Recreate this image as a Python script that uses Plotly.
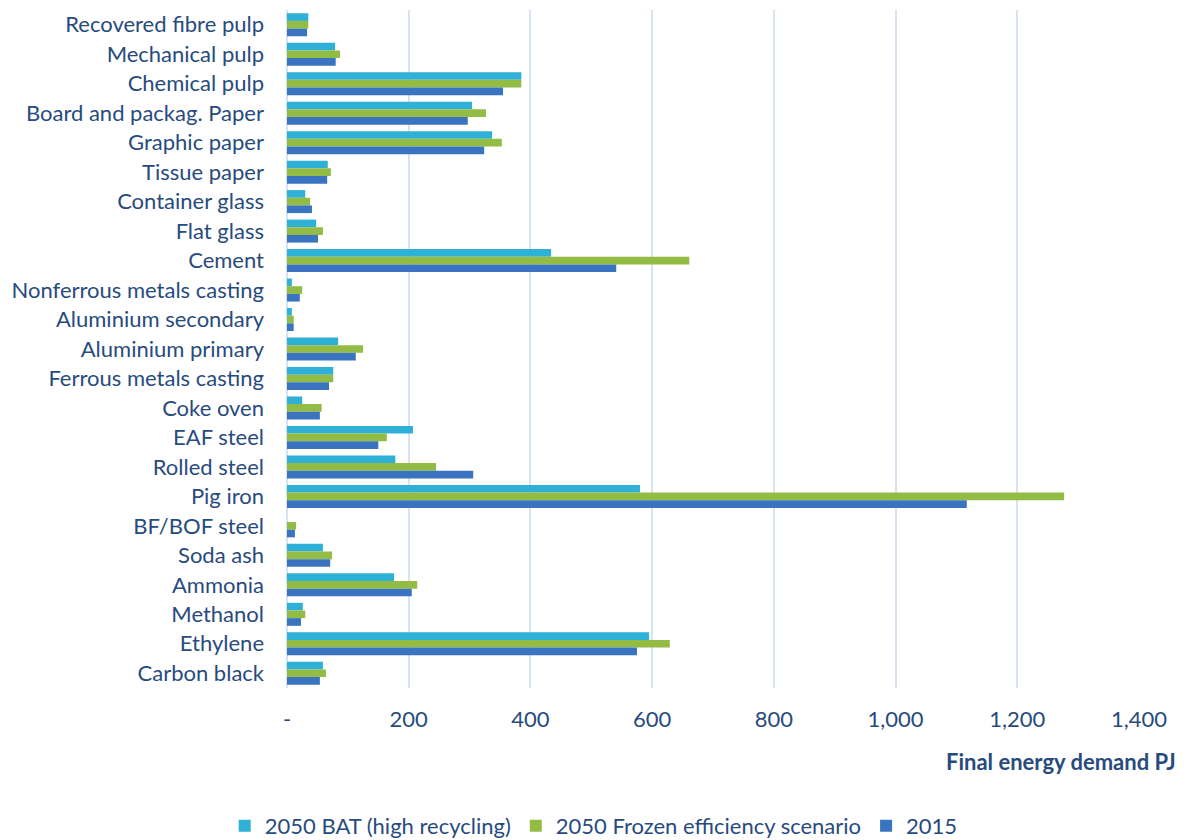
import plotly.graph_objects as go

categories = ["Recovered fibre pulp", "Mechanical pulp", "Chemical pulp", "Board and packag. Paper",
              "Graphic paper", "Tissue paper", "Container glass", "Flat glass", "Cement",
              "Nonferrous metals casting", "Aluminium secondary", "Aluminium primary",
              "Ferrous metals casting", "Coke oven", "EAF steel", "Rolled steel", "Pig iron",
              "BF/BOF steel", "Soda ash", "Ammonia", "Methanol", "Ethylene", "Carbon black"]

bat_2050 = [35, 79, 385, 304, 337, 67, 30, 48, 434, 8, 8, 84, 76, 25, 207, 178, 580,
            0, 59, 176, 26, 595, 59]
frozen_2050 = [35, 87, 385, 327, 353, 72, 38, 59, 661, 25, 11, 125, 76, 57, 164, 245, 1277,
               15, 74, 214, 30, 629, 64]
y2015 = [33, 80, 355, 297, 324, 66, 41, 51, 541, 21, 11, 113, 69, 54, 150, 306, 1117,
         13, 71, 205, 23, 575, 54]

series_names = ["2050 BAT (high recycling)", "2050 Frozen efficiency scenario", "2015"]
colors = ["#2FB0D6", "#93BC44", "#3A73BF"]

tick_vals = [0, 200, 400, 600, 800, 1000, 1200, 1400]
tick_text = ["-", "200", "400", "600", "800", "1,000", "1,200", "1,400"]

text_color = "#284B7E"
font_family = "Lato, 'Open Sans', sans-serif"

fig = go.Figure()
for name, vals, col in zip(series_names, [bat_2050, frozen_2050, y2015], colors):
    fig.add_trace(go.Bar(y=categories, x=vals, name=name, orientation="h",
                         marker=dict(color=col, line=dict(width=0))))

fig.update_layout(
    width=1184, height=840,
    barmode="group", bargap=0.22, bargroupgap=0,
    plot_bgcolor="white", paper_bgcolor="white",
    margin=dict(l=287, r=45, t=10, b=152, autoexpand=False),
    font=dict(family=font_family, size=22, color=text_color),
    xaxis=dict(range=[0, 1400], tickvals=tick_vals, ticktext=tick_text,
               showgrid=True, gridcolor="#D7E3F1", gridwidth=2,
               zeroline=True, zerolinecolor="#D7E3F1", zerolinewidth=2,
               showline=False, ticks="", ticklabelstandoff=16,
               tickfont=dict(size=22, color=text_color)),
    yaxis=dict(categoryorder="array", categoryarray=categories, autorange="reversed",
               showgrid=False, showline=False, ticks="", ticklabelstandoff=22,
               tickfont=dict(size=22, color=text_color)),
    legend=dict(orientation="h", x=0.36, xanchor="center", y=-0.2035, yanchor="middle",
                font=dict(size=22, color=text_color), traceorder="normal",
                itemwidth=30),
    showlegend=True,
)

fig.add_annotation(text="<b>Final energy demand PJ</b>", xref="paper", yref="paper",
                   x=1.046, y=-0.109, xanchor="right", yanchor="middle", showarrow=False,
                   font=dict(size=22, color=text_color, family=font_family))

fig.write_html("out.html")
